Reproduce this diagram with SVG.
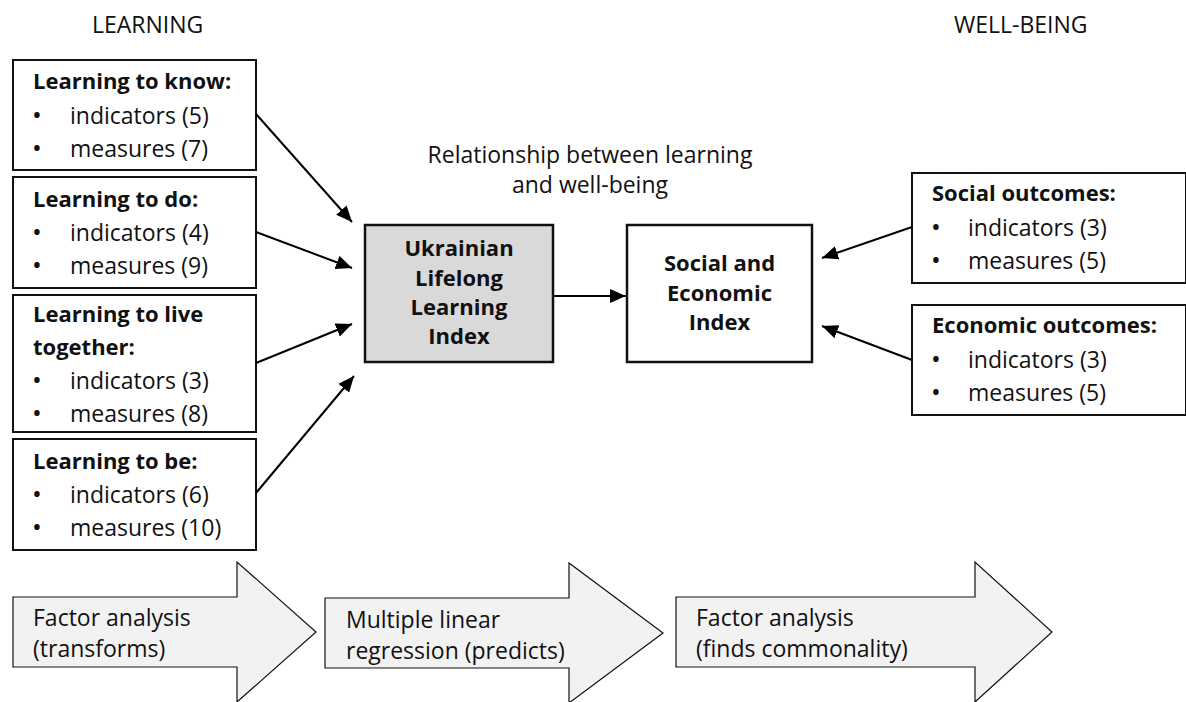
<svg xmlns="http://www.w3.org/2000/svg" width="1186" height="702" viewBox="0 0 1186 702">
<defs>
<style>
text{font-family:"Open Sans","Liberation Sans",sans-serif;font-size:23px;fill:#111}
.b{font-weight:bold;font-size:22px}
.c{text-anchor:middle}
.d{font-size:26px}
.box{fill:#fff;stroke:#111;stroke-width:2}
.grey{fill:#d9d9d9;stroke:#111;stroke-width:2.5}
.blk{fill:#fff;stroke:#111;stroke-width:2.5}
.big{fill:#f2f2f2;stroke:#111;stroke-width:1.2}
.con{stroke:#000;stroke-width:2;fill:none;marker-end:url(#ah)}
</style>
<marker id="ah" viewBox="0 0 10 10" refX="10" refY="5" markerWidth="8" markerHeight="7" markerUnits="strokeWidth" orient="auto" preserveAspectRatio="none">
<path d="M0,0 L10,5 L0,10 z" fill="#000"/>
</marker>
</defs>
<rect width="1186" height="702" fill="#fff"/>

<g id="labels">
<text x="92" y="33">LEARNING</text>
<text x="954" y="33">WELL-BEING</text>
<text x="590" y="163" class="c">Relationship between learning</text>
<text x="590" y="193" class="c">and well-being</text>
</g>

<g id="know">
<rect class="box" x="13" y="60" width="243" height="110"/>
<text x="33" y="89" class="b">Learning to know:</text>
<text x="32" y="124" class="d">•</text><text x="70" y="124">indicators (5)</text>
<text x="32" y="157" class="d">•</text><text x="70" y="157">measures (7)</text>
</g>
<g id="do">
<rect class="box" x="13" y="177" width="243" height="111"/>
<text x="33" y="207" class="b">Learning to do:</text>
<text x="32" y="241" class="d">•</text><text x="70" y="241">indicators (4)</text>
<text x="32" y="274" class="d">•</text><text x="70" y="274">measures (9)</text>
</g>
<g id="live">
<rect class="box" x="13" y="295" width="243" height="137"/>
<text x="33" y="322" class="b">Learning to live</text>
<text x="33" y="355" class="b">together:</text>
<text x="32" y="389" class="d">•</text><text x="70" y="389">indicators (3)</text>
<text x="32" y="422" class="d">•</text><text x="70" y="422">measures (8)</text>
</g>
<g id="be">
<rect class="box" x="13" y="439" width="243" height="111"/>
<text x="33" y="469" class="b">Learning to be:</text>
<text x="32" y="503" class="d">•</text><text x="70" y="503">indicators (6)</text>
<text x="32" y="536" class="d">•</text><text x="70" y="536">measures (10)</text>
</g>

<g id="ulli">
<rect class="grey" x="365" y="225" width="188" height="137"/>
<text x="459" y="256" class="b c">Ukrainian</text>
<text x="459" y="286" class="b c">Lifelong</text>
<text x="459" y="315" class="b c">Learning</text>
<text x="459" y="344" class="b c">Index</text>
</g>
<g id="sei">
<rect class="blk" x="627" y="225" width="185" height="137"/>
<text x="719.5" y="271" class="b c">Social and</text>
<text x="719.5" y="301" class="b c">Economic</text>
<text x="719.5" y="330" class="b c">Index</text>
</g>

<g id="social">
<rect class="box" x="912" y="173" width="274" height="110"/>
<text x="932" y="201" class="b">Social outcomes:</text>
<text x="931" y="236" class="d">•</text><text x="968" y="236">indicators (3)</text>
<text x="931" y="269" class="d">•</text><text x="968" y="269">measures (5)</text>
</g>
<g id="economic">
<rect class="box" x="912" y="305" width="274" height="110"/>
<text x="932" y="333" class="b">Economic outcomes:</text>
<text x="931" y="368" class="d">•</text><text x="968" y="368">indicators (3)</text>
<text x="931" y="401" class="d">•</text><text x="968" y="401">measures (5)</text>
</g>

<g id="fa1">
<path class="big" d="M13,597 H237 V562 L316,632 L237,702 V667 H13 Z"/>
<text x="33" y="626">Factor analysis</text>
<text x="33" y="657">(transforms)</text>
</g>
<g id="mlr">
<path class="big" d="M325,598 H569 V563 L663,633 L569,703 V668 H325 Z"/>
<text x="346" y="628">Multiple linear</text>
<text x="346" y="659">regression (predicts)</text>
</g>
<g id="fa2">
<path class="big" d="M676,597 H975 V562 L1052,632 L975,702 V667 H676 Z"/>
<text x="696" y="626">Factor analysis</text>
<text x="696" y="657">(finds commonality)</text>
</g>

<g id="connectors">
<line class="con" x1="256" y1="114" x2="352" y2="222"/>
<line class="con" x1="256" y1="232" x2="352" y2="268"/>
<line class="con" x1="256" y1="363" x2="352" y2="324"/>
<line class="con" x1="256" y1="493" x2="354" y2="376"/>
<line class="con" x1="553" y1="296" x2="626" y2="296"/>
<line class="con" x1="912" y1="227" x2="822" y2="258"/>
<line class="con" x1="912" y1="360" x2="822" y2="326"/>
</g>
</svg>
